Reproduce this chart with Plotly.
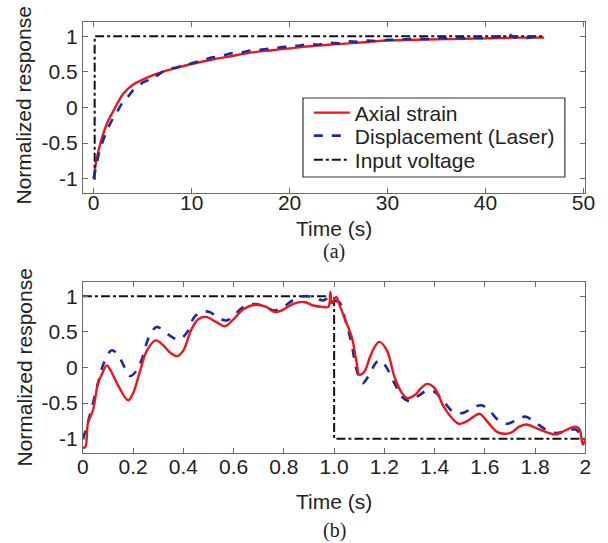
import plotly.graph_objects as go

# ---------- (a) step response ----------
a_strain_t = [0, 0.2, 0.5, 1, 1.5, 2, 3, 4, 5, 6, 7, 8, 10, 12, 14, 16, 18, 20, 22, 25, 28, 30, 33, 36, 40, 43, 46]
a_strain_v = [-1, -0.8, -0.6, -0.36, -0.18, -0.05, 0.19, 0.32, 0.39, 0.45, 0.5, 0.54, 0.61, 0.67, 0.72, 0.77, 0.8,
              0.83, 0.86, 0.89, 0.92, 0.94, 0.95, 0.96, 0.97, 0.98, 0.98]

a_laser_t = [0, 0.1, 0.3, 0.5, 0.8, 1, 1.3, 1.6, 2, 2.4, 2.8, 3.2, 3.6, 4, 4.5, 5, 5.5, 6, 6.5, 7, 7.5, 8, 8.5, 9, 9.5,
             10, 11, 12, 13, 14, 15, 16, 17, 18, 19, 20, 21, 22, 23, 24, 25, 26, 27, 28, 29, 30, 31, 32, 33, 34,
             35, 36, 37, 38, 39, 40, 41, 42, 42.5, 43, 43.5, 44, 45, 46]
a_laser_v = [-1, -0.92, -0.78, -0.66, -0.52, -0.44, -0.34, -0.25, -0.14, -0.06, 0.04, 0.1, 0.17, 0.24, 0.29,
             0.35, 0.38, 0.44, 0.45, 0.5, 0.51, 0.55, 0.56, 0.59, 0.60, 0.62, 0.66, 0.70, 0.72, 0.76,
             0.77, 0.80, 0.81, 0.83, 0.84, 0.86, 0.87, 0.89, 0.88, 0.91, 0.90, 0.93, 0.92, 0.94, 0.93,
             0.95, 0.95, 0.96, 0.97, 0.96, 0.98, 0.97, 0.98, 0.97, 0.98, 0.97, 0.99, 1.0, 1.02, 0.98,
             1.0, 0.97, 0.99, 0.98]

a_input_t = [0, 0.1, 0.1, 46]
a_input_v = [-1, -1, 1, 1]

# ---------- (b) square-wave response ----------
b_strain_t = [0, 0.01, 0.02, 0.04, 0.06, 0.075, 0.095, 0.11, 0.14, 0.18, 0.2, 0.225, 0.255, 0.29, 0.32, 0.35,
              0.375, 0.4, 0.43, 0.46, 0.49, 0.53, 0.565, 0.595, 0.64, 0.685, 0.73, 0.76, 0.79, 0.835, 0.88,
              0.917, 0.955, 0.977, 0.985, 0.99, 1.008, 1.02, 1.045, 1.07, 1.09, 1.1, 1.12, 1.143, 1.165, 1.18,
              1.21, 1.24, 1.27, 1.293, 1.32, 1.346, 1.37, 1.4, 1.436, 1.474, 1.496, 1.526, 1.564, 1.58, 1.61,
              1.647, 1.677, 1.707, 1.737, 1.767, 1.797, 1.84, 1.88, 1.91, 1.94, 1.962, 1.977, 1.99, 2.0]
b_strain_v = [-1.13, -1.11, -0.78, -0.6, -0.22, -0.1, 0.03, -0.04, -0.25, -0.46, -0.36, -0.08, 0.24, 0.38, 0.31,
              0.2, 0.16, 0.24, 0.52, 0.68, 0.71, 0.64, 0.58, 0.66, 0.82, 0.88, 0.85, 0.78, 0.8, 0.89, 0.92,
              0.87, 0.85, 0.85, 1.06, 0.9, 0.99, 0.89, 0.66, 0.43, 0.06, -0.1, -0.06, 0.15, 0.31, 0.36,
              0.24, -0.13, -0.36, -0.43, -0.39, -0.29, -0.23, -0.29, -0.55, -0.73, -0.79, -0.76, -0.67, -0.65, -0.76,
              -0.9, -0.93, -0.91, -0.83, -0.8, -0.84, -0.9, -0.94, -0.9, -0.85, -0.83, -0.87, -1.08, -1.01]

b_laser_t = [0, 0.015, 0.035, 0.06, 0.083, 0.113, 0.135, 0.165, 0.188, 0.21, 0.233, 0.263, 0.293, 0.316, 0.353,
             0.383, 0.414, 0.444, 0.474, 0.504, 0.534, 0.571, 0.6, 0.639, 0.684, 0.729, 0.76, 0.797, 0.835, 0.88,
             0.925, 0.955, 0.985, 1.0, 1.02, 1.045, 1.068, 1.09, 1.113, 1.135, 1.165, 1.18, 1.203, 1.24, 1.27,
             1.3, 1.33, 1.368, 1.4, 1.436, 1.474, 1.51, 1.55, 1.586, 1.617, 1.654, 1.69, 1.73, 1.76, 1.797,
             1.842, 1.88, 1.917, 1.962, 1.985, 2.0]
b_laser_v = [-1.01, -0.83, -0.57, -0.22, 0.06, 0.24, 0.2, 0.01, -0.12, -0.06, 0.1, 0.43, 0.57, 0.53, 0.43,
             0.39, 0.49, 0.71, 0.78, 0.78, 0.71, 0.66, 0.73, 0.85, 0.89, 0.85, 0.8, 0.85, 0.94, 1.0,
             0.98, 0.94, 0.99, 0.94, 0.92, 0.66, 0.36, -0.04, -0.22, -0.13, 0.06, 0.1, 0.03, -0.22, -0.41,
             -0.47, -0.41, -0.33, -0.34, -0.48, -0.62, -0.64, -0.57, -0.53, -0.6, -0.74, -0.79, -0.73, -0.69, -0.76,
             -0.87, -0.92, -0.9, -0.87, -0.97, -0.99]

b_input_t = [0, 1.0, 1.0, 2]
b_input_v = [1, 1, -1, -1]

a_xticks = [0, 10, 20, 30, 40, 50]
b_xticks = [0, 0.2, 0.4, 0.6, 0.8, 1.0, 1.2, 1.4, 1.6, 1.8, 2]
b_xtick_text = ["0", "0.2", "0.4", "0.6", "0.8", "1.0", "1.2", "1.4", "1.6", "1.8", "2"]
yticks = [-1, -0.5, 0, 0.5, 1]
ytick_text = ["-1", "-0.5", "0", "0.5", "1"]

RED = "#f0141e"
BLUE = "#1c2c9c"
BLACK = "#111111"
FONT = "Liberation Sans, Arial, sans-serif"
SERIF = "Liberation Serif, Times New Roman, serif"
TXT = "#222222"
FS = 21
H = 543.0
W = 608.0


def py(px):
    return 1 - px / H


fig = go.Figure()
fig.add_trace(go.Scatter(x=a_strain_t, y=a_strain_v, mode="lines", name="Axial strain", legend="legend",
                         line=dict(color=RED, width=2.4, shape="spline"), xaxis="x", yaxis="y"))
fig.add_trace(go.Scatter(x=a_input_t, y=a_input_v, mode="lines", name="Input voltage", legend="legend3",
                         line=dict(color=BLACK, width=2, dash="dashdot"), xaxis="x", yaxis="y"))
fig.add_trace(go.Scatter(x=a_laser_t, y=a_laser_v, mode="lines", name="Displacement (Laser)", legend="legend2",
                         line=dict(color=BLUE, width=2.6, dash="dash"), xaxis="x", yaxis="y"))

fig.add_trace(go.Scatter(x=b_input_t, y=b_input_v, mode="lines", showlegend=False,
                         line=dict(color=BLACK, width=2, dash="dashdot"), xaxis="x2", yaxis="y2"))
fig.add_trace(go.Scatter(x=b_laser_t, y=b_laser_v, mode="lines", showlegend=False,
                         line=dict(color=BLUE, width=2.6, dash="dash", shape="spline"), xaxis="x2", yaxis="y2"))
fig.add_trace(go.Scatter(x=b_strain_t, y=b_strain_v, mode="lines", showlegend=False,
                         line=dict(color=RED, width=2.4, shape="spline"), xaxis="x2", yaxis="y2"))

axis_common = dict(showline=True, mirror="ticks", linecolor="#6a6a6a", linewidth=1.2,
                   ticks="inside", ticklen=5, tickcolor="#6a6a6a", showgrid=False, zeroline=False,
                   tickfont=dict(family=FONT, size=FS, color=TXT))
label_axis = dict(showline=False, ticks="", showgrid=False, zeroline=False, anchor="free",
                  tickfont=dict(family=FONT, size=FS, color=TXT))

xdom = [79 / W, 595 / W]
legend_common = dict(xanchor="left", yanchor="middle", bgcolor="rgba(0,0,0,0)", borderwidth=0,
                     font=dict(family=FONT, size=FS, color=TXT), itemwidth=36)
fig.update_layout(
    width=608, height=543,
    margin=dict(l=0, r=0, t=0, b=0),
    paper_bgcolor="white", plot_bgcolor="white",
    xaxis=dict(domain=xdom, range=[-1.1, 50.2], tickvals=a_xticks, anchor="y", showticklabels=False,
               **axis_common),
    yaxis=dict(domain=[py(193), py(22)], range=[-1.2, 1.2], tickvals=yticks,
               ticktext=ytick_text, anchor="x", **axis_common),
    xaxis2=dict(domain=xdom, range=[0, 2], tickvals=b_xticks, anchor="y2", showticklabels=False,
                **axis_common),
    yaxis2=dict(domain=[py(453), py(282)], range=[-1.2, 1.2], tickvals=yticks,
                ticktext=ytick_text, anchor="x2", **axis_common),
    xaxis3=dict(overlaying="x", range=[-1.1, 50.2], tickvals=a_xticks, position=py(188), **label_axis),
    xaxis4=dict(overlaying="x2", range=[0, 2], tickvals=b_xticks, ticktext=b_xtick_text,
                position=py(452), **label_axis),
    legend=dict(x=311 / W, y=py(113), **legend_common),
    legend2=dict(x=311 / W, y=py(136), **legend_common),
    legend3=dict(x=311 / W, y=py(160), **legend_common),
    showlegend=True,
    shapes=[dict(type="rect", xref="paper", yref="paper", x0=305 / W, x1=574 / W, y0=py(177), y1=py(98),
                 line=dict(color="#333333", width=1.2), fillcolor="white", layer="above")],
)

# invisible traces so the label-only axes get drawn
fig.add_trace(go.Scatter(x=[a_xticks[0]], y=[None], xaxis="x3", yaxis="y", showlegend=False,
                         hoverinfo="skip"))
fig.add_trace(go.Scatter(x=[b_xticks[0]], y=[None], xaxis="x4", yaxis="y2", showlegend=False,
                         hoverinfo="skip"))

ann = []
for yc in (228, 501):
    ann.append(dict(text="Time (s)", x=337 / W, y=py(yc), xref="paper", yref="paper",
                    showarrow=False, xanchor="center", yanchor="middle",
                    font=dict(family=FONT, size=FS, color=TXT)))
for yc in (106, 368):
    ann.append(dict(text="Normalized response", x=18 / W, y=py(yc), xref="paper", yref="paper",
                    showarrow=False, xanchor="center", yanchor="middle", textangle=-90,
                    font=dict(family=FONT, size=FS, color=TXT)))
for label, yc in (("(a)", 251), ("(b)", 530)):
    ann.append(dict(text=label, x=337 / W, y=py(yc), xref="paper", yref="paper",
                    showarrow=False, xanchor="center", yanchor="middle",
                    font=dict(family=SERIF, size=20, color=TXT)))
fig.update_layout(annotations=ann)

fig.write_html("out.html", config={"displayModeBar": False},
               post_script="document.body.style.margin='0';document.body.style.overflow='hidden';")
